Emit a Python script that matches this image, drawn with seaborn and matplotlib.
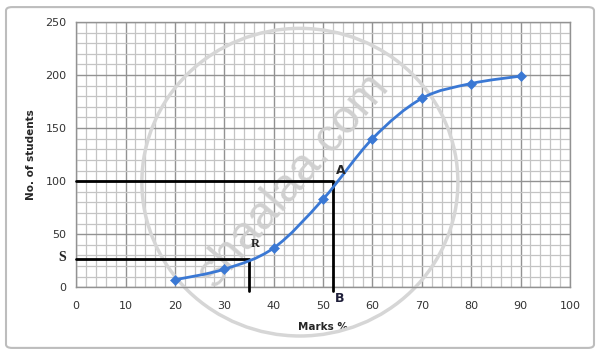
import numpy as np
import matplotlib
matplotlib.use("Agg")
import matplotlib.pyplot as plt
import seaborn as sns
import pandas as pd
from matplotlib.path import Path
from matplotlib.patches import PathPatch, FancyBboxPatch, Ellipse

# ogive data
marks = [20, 30, 40, 50, 60, 70, 80, 90]
students = [7, 17, 37, 83, 140, 178, 192, 199]

median_y = 100
median_x = 52
quart_y = 27
quart_x = 35

x_ticks = list(range(0, 101, 10))
y_ticks = list(range(0, 251, 50))


def smooth_path(xs, ys, t=0.5 / 3):
    """cubic bezier path through the points (Excel style smoothed line)"""
    pts = np.column_stack([xs, ys]).astype(float)
    verts = [pts[0]]
    codes = [Path.MOVETO]
    n = len(pts)
    for i in range(n - 1):
        p0 = pts[i - 1] if i > 0 else pts[i]
        p1 = pts[i]
        p2 = pts[i + 1]
        p3 = pts[i + 2] if i + 2 < n else pts[i + 1]
        c1 = p1 + (p2 - p0) * t
        c2 = p2 - (p3 - p1) * t
        verts += [c1, c2, p2]
        codes += [Path.CURVE4] * 3
    return Path(verts, codes)


sns.set_style("white")
plt.rcParams['font.family'] = ['DejaVu Sans']

fig = plt.figure(figsize=(6, 3.55), dpi=100)
ax = fig.add_axes([0.127, 0.191, 0.823, 0.747])

# outer frame
fig.patches.append(FancyBboxPatch((0.01, 0.02), 0.98, 0.96, boxstyle="round,pad=0,rounding_size=0.01",
                                  transform=fig.transFigure, fill=False, ec="#bdbdbd", lw=1.5))

# graph paper grid
ax.set_xticks(np.arange(0, 101, 2), minor=True)
ax.set_yticks(np.arange(0, 251, 10), minor=True)
ax.grid(which="minor", color="#c4c4c4", lw=0.9)
ax.grid(which="major", color="#929292", lw=1.0)
ax.set_axisbelow(True)

ax.set_xlim(0, 100)
ax.set_ylim(0, 250)
ax.set_xticks(x_ticks)
ax.set_yticks(y_ticks)
ax.tick_params(which="both", length=0, labelsize=8, labelcolor="#333333")
ax.tick_params(axis="x", pad=10)
ax.tick_params(axis="y", pad=7)
for s in ax.spines.values():
    s.set_color("#929292")
    s.set_linewidth(1.0)

# watermark
ax.add_patch(Ellipse((0.453, 0.396), 0.64, 1.16, transform=ax.transAxes, fill=False,
                     ec="#d6d6d6", lw=2.5, clip_on=False, zorder=1))
ax.text(44, 101, "shaalaa.com", rotation=49, fontsize=34, color="#d0d0d0",
        ha="center", va="center", zorder=1, family="Liberation Sans")

# construction lines
ax.plot([0, median_x, median_x], [median_y, median_y, -4], color="black", lw=2, clip_on=False, zorder=3)
ax.plot([0, quart_x, quart_x], [quart_y, quart_y, -4], color="black", lw=2, clip_on=False, zorder=3)

# smoothed ogive
ax.add_patch(PathPatch(smooth_path(marks, students), fill=False, ec="#3a78d4", lw=2, zorder=4))
df = pd.DataFrame({"Marks": marks, "Students": students})
sns.scatterplot(data=df, x="Marks", y="Students", ax=ax, marker="D", s=26,
                color="#3a78d4", edgecolor="#3a78d4", zorder=5, clip_on=False)

ax.text(53.5, 110, "A", fontsize=9, fontweight="bold", ha="center", va="center", zorder=6)
ax.text(36.2, 40.5, "R", fontsize=9, fontweight="bold", ha="center", va="center",
        family="Liberation Serif", zorder=6)
ax.text(-2.0, 28, "S", fontsize=10, fontweight="bold", ha="right", va="center",
        family="Liberation Serif", clip_on=False)
ax.text(53.4, -11, "B", fontsize=9, fontweight="bold", ha="center", va="center",
        color="#1f1f3a", clip_on=False)

ax.set_xlabel("Marks %", fontsize=7.5, fontweight="bold", labelpad=8)
ax.set_ylabel("No. of students", fontsize=7.5, fontweight="bold", labelpad=7)

fig.savefig("out.png", dpi=100)
